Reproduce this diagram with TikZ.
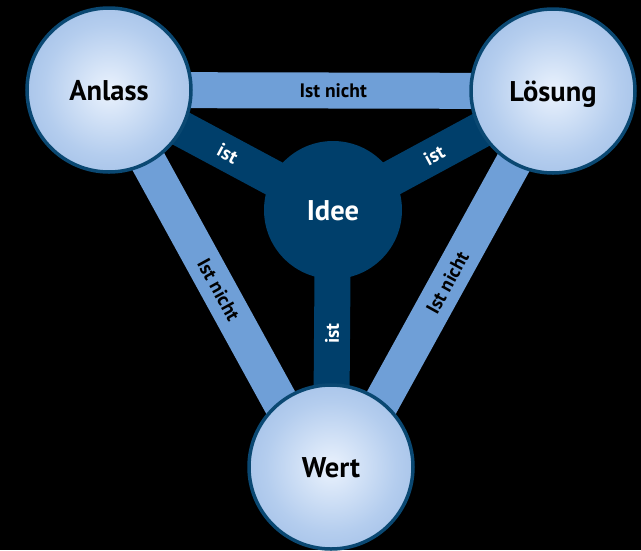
\documentclass[tikz,border=0pt]{standalone}
\usepackage{fontspec}
\setmainfont{PT Sans}
\definecolor{lightbar}{HTML}{6F9FD7}
\definecolor{navy}{HTML}{003F6B}
\definecolor{rimc}{HTML}{0A4872}
\definecolor{cin}{HTML}{EAF2FD}
\definecolor{cmid}{HTML}{B4CDEE}
\definecolor{cout}{HTML}{7DA4DA}
\pgfdeclareradialshading{ballshade}{\pgfpoint{0bp}{0bp}}{color(0bp)=(cin); color(20bp)=(cmid); color(50bp)=(cout)}
\pgfdeclarelayer{bg}
\pgfdeclarelayer{bars}
\pgfsetlayers{bg,bars,main}
\tikzset{
  outer/.style={circle, minimum size=164pt, inner sep=0pt, shading=ballshade, draw=rimc, line width=3.5pt,
    font=\fontsize{28.5}{30}\selectfont\bfseries, text=black, text height=20pt, text depth=0pt},
  innerc/.style={circle, minimum size=138pt, inner sep=0pt, fill=navy,
    font=\fontsize{28.5}{30}\selectfont\bfseries, text=white, text height=20pt, text depth=0pt},
  lbar/.style={draw=lightbar, line width=36pt},
  dbar/.style={draw=navy, line width=36pt},
  lbl/.style={font=\fontsize{19.5}{20}\selectfont\bfseries, inner sep=0pt, text height=13.6pt, text depth=0pt},
}
\begin{document}
\begin{tikzpicture}[x=1pt,y=-1pt]
\begin{pgfonlayer}{bg}
\fill[black] (0,0) rectangle (641,550);
\end{pgfonlayer}
\useasboundingbox (0,0) rectangle (641,550);
\node[outer] (A) at (109,90) {Anlass};
\node[outer] (L) at (553,91) {Lösung};
\node[outer] (W) at (331,467) {Wert};
\node[innerc] (I) at (333,210) {Idee};
\coordinate (Wl) at ([xshift=-15pt]W.center);
\coordinate (Wr) at ([xshift=15pt]W.center);
\begin{pgfonlayer}{bars}
\path[lbar] (A.center) -- node[lbl, sloped, pos=0.505] (t1) {Ist nicht} (L.center);
\path[lbar] (A.center) -- node[lbl, sloped, pos=0.53] (t2) {Ist nicht} (Wl);
\path[lbar] (L.center) -- node[lbl, sloped, pos=0.51] (t3) {Ist nicht} (Wr);
\path[dbar] (I.center) -- node[lbl, text=white, sloped, pos=0.47] (t4) {ist} (A.center);
\path[dbar] (I.center) -- node[lbl, text=white, sloped, pos=0.46] (t5) {ist} (L.center);
\path[dbar] (W.center) -- node[lbl, text=white, sloped, pos=0.52] (t6) {ist} (I.center);
\end{pgfonlayer}
\end{tikzpicture}
\end{document}
